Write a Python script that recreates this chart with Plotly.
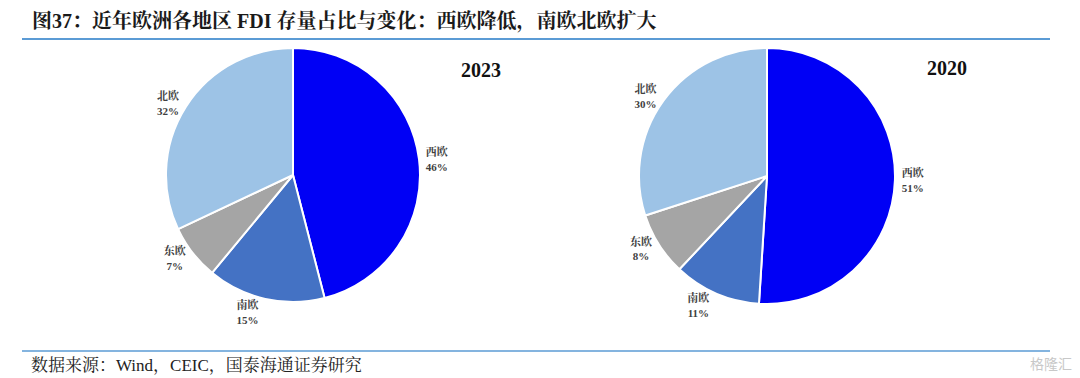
import plotly.graph_objects as go

regions = ["西欧", "南欧", "东欧", "北欧"]
share_2023 = [46, 15, 7, 32]
share_2020 = [51, 11, 8, 30]
colors = ["#0000F5", "#4472C4", "#A5A5A5", "#9DC3E6"]

title_text = "图37：近年欧洲各地区 FDI 存量占比与变化：西欧降低，南欧北欧扩大"
source_text = "数据来源：Wind，CEIC，国泰海通证券研究"

W, H = 1080, 378
serif = "Times New Roman, Liberation Serif, Noto Serif CJK SC, Noto Sans CJK SC, serif"

def pie(vals, cx, cy, r):
    return go.Pie(
        labels=regions, values=vals, sort=False, direction="clockwise", rotation=0,
        marker=dict(colors=colors, line=dict(color="white", width=2)),
        textposition="outside", texttemplate="<b>%{label}<br>%{value}%</b>",
        textfont=dict(family=serif, size=11, color="#404040"),
        showlegend=False, hoverinfo="label+percent",
        domain=dict(x=[(cx - r) / W, (cx + r) / W], y=[1 - (cy + r) / H, 1 - (cy - r) / H]),
    )

fig = go.Figure()
fig.add_trace(pie(share_2023, 293, 175, 127))
fig.add_trace(pie(share_2020, 767, 176, 128))

fig.update_layout(
    width=W, height=H, margin=dict(l=0, r=0, t=0, b=0),
    paper_bgcolor="white", plot_bgcolor="white",
    shapes=[
        dict(type="line", xref="paper", yref="paper", x0=22 / W, x1=1050 / W,
             y0=1 - 39 / H, y1=1 - 39 / H, line=dict(color="#5B9BD5", width=2)),
        dict(type="line", xref="paper", yref="paper", x0=22 / W, x1=1050 / W,
             y0=1 - 351 / H, y1=1 - 351 / H, line=dict(color="#5B9BD5", width=1.5)),
    ],
    annotations=[
        dict(text="<b>" + title_text + "</b>", xref="paper", yref="paper",
             x=30 / W, y=1 - 21 / H, xanchor="left", yanchor="middle", showarrow=False,
             font=dict(family=serif, size=20, color="#1a1a1a")),
        dict(text="<b>2023</b>", xref="paper", yref="paper", x=481 / W, y=1 - 70 / H,
             xanchor="center", yanchor="middle", showarrow=False,
             font=dict(family=serif, size=20, color="#111111")),
        dict(text="<b>2020</b>", xref="paper", yref="paper", x=947 / W, y=1 - 68 / H,
             xanchor="center", yanchor="middle", showarrow=False,
             font=dict(family=serif, size=20, color="#111111")),
        dict(text=source_text, xref="paper", yref="paper", x=29 / W, y=1 - 365 / H,
             xanchor="left", yanchor="middle", showarrow=False,
             font=dict(family=serif, size=17, color="#222222")),
        dict(text="格隆汇", xref="paper", yref="paper", x=1074 / W, y=1 - 363 / H,
             xanchor="right", yanchor="middle", showarrow=False,
             font=dict(family="Noto Sans CJK SC", size=14, color="#C8C8C8")),
    ],
)

fig.write_html(
    "out.html",
    config={"displayModeBar": False},
    post_script="document.body.style.margin='0';document.body.style.overflow='hidden';",
)
